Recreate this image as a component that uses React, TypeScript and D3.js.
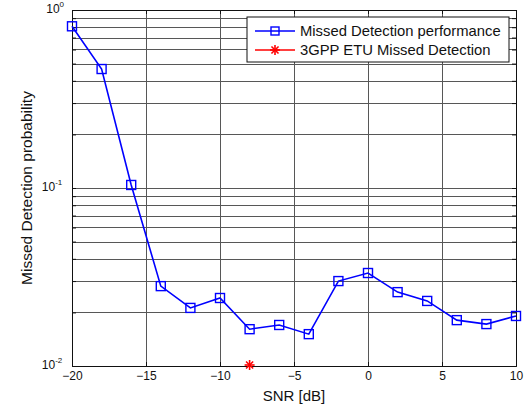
import React, { useEffect, useRef } from "react";
import * as d3 from "d3";

const snr = [-20, -18, -16, -14, -12, -10, -8, -6, -4, -2, 0, 2, 4, 6, 8, 10];
const missed = [0.81, 0.466, 0.104, 0.0281, 0.0212, 0.0241, 0.0161, 0.017, 0.0151, 0.03, 0.0333, 0.026, 0.0232, 0.0181, 0.0172, 0.0191];
const etuSnr = [-8];
const etuMissed = [0.01];
const xTicks = [-20, -15, -10, -5, 0, 5, 10];
const yDecades = [0, -1, -2];
const legendLabels = ["Missed Detection performance", "3GPP ETU Missed Detection"];

const App = () => {
  const svgRef = useRef<SVGSVGElement>(null);

  useEffect(() => {
    const w = 528;
    const h = 409;
    const m = { left: 72, right: 12, top: 10, bottom: 43 };
    const svg = d3.select(svgRef.current)
      .attr("width", w)
      .attr("height", h)
      .style("display", "block")
      .style("font-family", "'Liberation Sans', Arial, sans-serif");
    svg.selectAll("*").remove();

    const x = d3.scaleLinear().domain([-20, 10]).range([m.left, w - m.right]);
    const y = d3.scaleLog().domain([0.01, 1]).range([h - m.bottom, m.top]);

    // grid
    const minor: number[] = [];
    [0.01, 0.1].forEach(d => { for (let k = 1; k <= 9; k++) minor.push(d * k); });
    minor.push(1);
    const grid = svg.append("g").attr("stroke", "#3a3a3a").attr("stroke-width", 1).attr("opacity", 0.85);
    grid.selectAll("line.h").data(minor).enter().append("line")
      .attr("x1", x(-20)).attr("x2", x(10))
      .attr("y1", d => Math.round(y(d)) + 0.5).attr("y2", d => Math.round(y(d)) + 0.5);
    grid.selectAll("line.v").data(xTicks).enter().append("line")
      .attr("y1", y(0.01)).attr("y2", y(1))
      .attr("x1", d => Math.round(x(d)) + 0.5).attr("x2", d => Math.round(x(d)) + 0.5);

    // axes (ticks inward)
    const xAxis = d3.axisBottom(x).tickValues(xTicks).tickSize(-4).tickPadding(5).tickFormat(d3.format("d"));
    const gx = svg.append("g").attr("transform", `translate(0,${h - m.bottom})`).call(xAxis);
    gx.selectAll("text").attr("font-size", 12).attr("fill", "#111");
    svg.append("g").attr("transform", `translate(0,${m.top})`)
      .call(d3.axisTop(x).tickValues(xTicks).tickSize(-4).tickFormat(() => ""));

    const yAxisL = d3.axisLeft(y).tickValues(minor).tickSize(-4).tickFormat(() => "");
    svg.append("g").attr("transform", `translate(${m.left},0)`).call(yAxisL);
    svg.append("g").attr("transform", `translate(${w - m.right},0)`)
      .call(d3.axisRight(y).tickValues(minor).tickSize(-4).tickFormat(() => ""));
    svg.selectAll(".domain").attr("stroke", "#111");
    svg.selectAll(".tick line").attr("stroke", "#111");

    // y decade labels: "10" with superscript exponent
    const yl = svg.append("g").attr("fill", "#111");
    yDecades.forEach(e => {
      const ty = y(Math.pow(10, e)) + 3;
      const exp = String(e);
      const expW = exp.length * 4.4;
      yl.append("text")
        .attr("x", m.left - 8 - expW)
        .attr("y", ty)
        .attr("text-anchor", "end")
        .attr("font-size", 12)
        .text("10");
      yl.append("text")
        .attr("x", m.left - 8 - expW)
        .attr("y", ty - 6)
        .attr("text-anchor", "start")
        .attr("font-size", 8)
        .text(exp);
    });

    // axis labels
    svg.append("text")
      .attr("x", (x(-20) + x(10)) / 2).attr("y", h - 8)
      .attr("text-anchor", "middle").attr("font-size", 15).attr("fill", "#111")
      .text("SNR [dB]");
    svg.append("text")
      .attr("transform", `translate(32,${(y(0.01) + y(1)) / 2}) rotate(-90)`)
      .attr("text-anchor", "middle").attr("font-size", 15.5).attr("fill", "#111")
      .text("Missed Detection probability");

    // series
    const line = d3.line<number>().x((d, i) => x(snr[i])).y(d => y(d));
    svg.append("path").datum(missed)
      .attr("d", line).attr("fill", "none").attr("stroke", "#0000ff").attr("stroke-width", 1.6);
    svg.selectAll("rect.pt").data(missed).enter().append("rect")
      .attr("x", (d, i) => x(snr[i]) - 4.5).attr("y", d => y(d) - 4.5)
      .attr("width", 9).attr("height", 9)
      .attr("fill", "none").attr("stroke", "#0000ff").attr("stroke-width", 1.4);

    const star = (g: any, cx: number, cy: number, r: number) => {
      for (let k = 0; k < 4; k++) {
        const a = (Math.PI / 4) * k;
        g.append("line")
          .attr("x1", cx - r * Math.cos(a)).attr("y1", cy - r * Math.sin(a))
          .attr("x2", cx + r * Math.cos(a)).attr("y2", cy + r * Math.sin(a))
          .attr("stroke", "#ff0000").attr("stroke-width", 1.6);
      }
    };
    const sg = svg.append("g");
    etuMissed.forEach((d, i) => star(sg, x(etuSnr[i]), y(d) - 1, 5));

    // legend
    const lg = svg.append("g").attr("transform", "translate(247,17)");
    lg.append("rect").attr("width", 262).attr("height", 45)
      .attr("fill", "#fff").attr("stroke", "#111").attr("stroke-width", 1);
    legendLabels.forEach((label, i) => {
      const ly = 14 + i * 19;
      const col = i === 0 ? "#0000ff" : "#ff0000";
      lg.append("line").attr("x1", 8).attr("x2", 48).attr("y1", ly).attr("y2", ly)
        .attr("stroke", col).attr("stroke-width", 1.6);
      if (i === 0) {
        lg.append("rect").attr("x", 24).attr("y", ly - 4).attr("width", 8).attr("height", 8)
          .attr("fill", "none").attr("stroke", col).attr("stroke-width", 1.4);
      } else {
        star(lg, 28, ly, 5);
      }
      lg.append("text").attr("x", 53).attr("y", ly + 5)
        .attr("font-size", 14.8).attr("fill", "#111").text(label);
    });
  }, []);

  return (
    <div style={{ position: "fixed", left: 0, top: 0, width: 528, height: 409, background: "#fff" }}>
      <svg ref={svgRef}></svg>
    </div>
  );
};

export default App;
